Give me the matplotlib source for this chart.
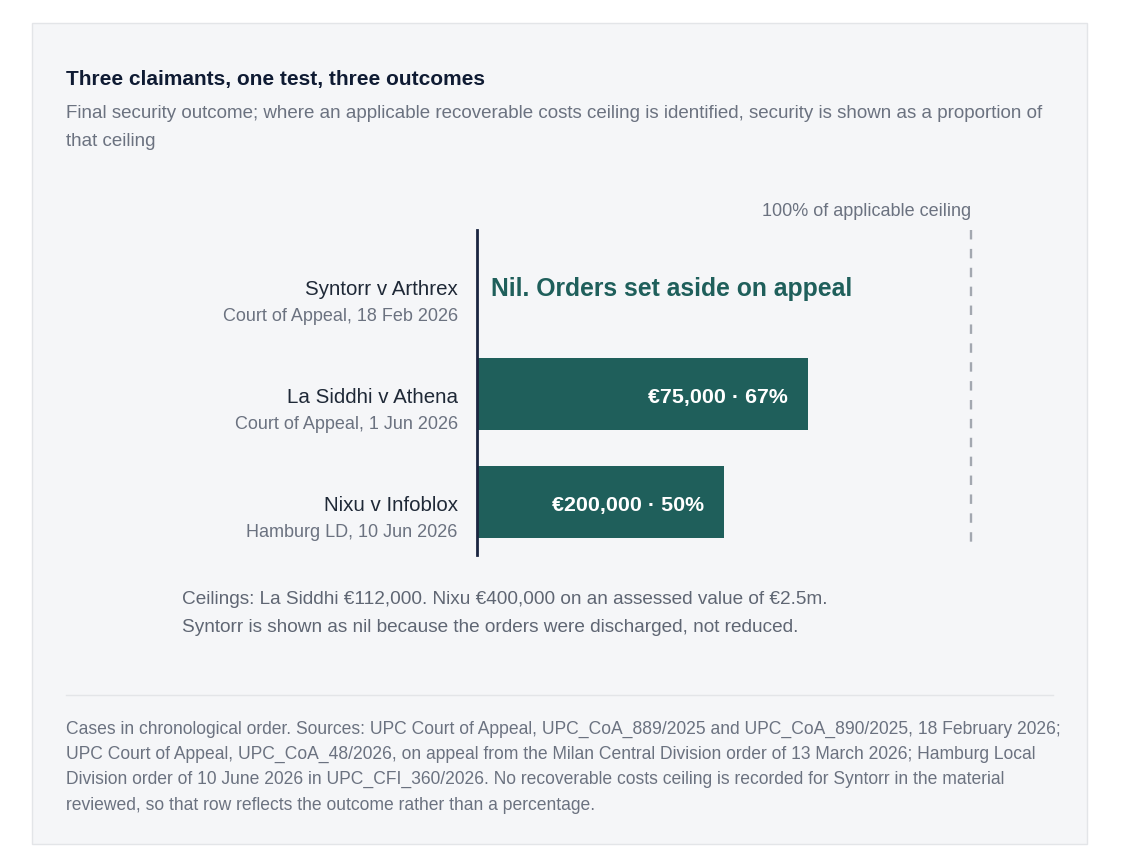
import numpy as np
import matplotlib.pyplot as plt
from matplotlib.patches import Rectangle

plt.rcParams['font.family'] = ['Liberation Sans', 'DejaVu Sans']

# data
cases = ['Syntorr v Arthrex', 'La Siddhi v Athena', 'Nixu v Infoblox']
courts = ['Court of Appeal, 18 Feb 2026', 'Court of Appeal, 1 Jun 2026', 'Hamburg LD, 10 Jun 2026']
share = [0.0, 0.67, 0.50]           # security as share of ceiling
amounts = [None, '€75,000', '€200,000']
pct_labels = [None, '67%', '50%']
nil_text = 'Nil. Orders set aside on appeal'

W, H = 1123, 862
fig = plt.figure(figsize=(W / 100, H / 100), dpi=100)
fig.patch.set_facecolor('white')

def fx(px):
    return px / W

def fy(py):
    return 1 - py / H

# panel
fig.patches.append(Rectangle((fx(32), fy(845)), fx(1087) - fx(32), fy(24) - fy(845),
                             transform=fig.transFigure, facecolor='#f5f6f8',
                             edgecolor='#e3e5e8', linewidth=1, zorder=-5))

fig.text(fx(66), fy(80), 'Three claimants, one test, three outcomes', fontsize=15,
         fontweight='bold', color='#0f1b33', va='center', ha='left')
fig.text(fx(66), fy(114), 'Final security outcome; where an applicable recoverable costs ceiling is identified, security is shown as a proportion of',
         fontsize=13.5, color='#6b7280', va='center', ha='left')
fig.text(fx(66), fy(141), 'that ceiling', fontsize=13.5, color='#6b7280', va='center', ha='left')

# chart axes: x 0..1 maps 477..971 px
ax = fig.add_axes([fx(477), fy(556), fx(971) - fx(477), fy(231) - fy(556)])
ax.set_facecolor('none')
ax.set_zorder(2)
ax.set_xlim(0, 1)
ax.set_ylim(2.49, -0.52)
for s in ['top', 'right', 'bottom']:
    ax.spines[s].set_visible(False)
ax.spines['left'].set_color('#1a2540')
ax.spines['left'].set_linewidth(2)
ax.set_xticks([])
ax.set_yticks([])

y = np.arange(len(cases))
ax.barh(y, share, height=0.667, color='#1f5f5b', zorder=2)

ax.plot([1, 1], [-0.52, 2.45], color='#a3a8b0', linestyle=(0, (4, 4)), linewidth=1.7, clip_on=False)
ax.text(1, -0.70, '100% of applicable ceiling', ha='right', va='center', fontsize=13,
        color='#6b7280')

for i in range(len(cases)):
    ax.text(-0.039, y[i] + 0.02, cases[i], ha='right', va='center', fontsize=14.8, color='#1f2937')
    ax.text(-0.039, y[i] + 0.27, courts[i], ha='right', va='center', fontsize=13, color='#6b7280')
    if share[i] == 0:
        ax.text(0.028, y[i] + 0.02, nil_text, ha='left', va='center', fontsize=17.8,
                fontweight='bold', color='#1f5f5b')
    else:
        ax.text(share[i] - 0.04, y[i] + 0.02, amounts[i] + ' · ' + pct_labels[i], ha='right',
                va='center', fontsize=15.4, fontweight='bold', color='white', zorder=3)

fig.text(fx(182), fy(599), 'Ceilings: La Siddhi €112,000. Nixu €400,000 on an assessed value of €2.5m.',
         fontsize=13.65, color='#5f6673', va='center', ha='left')
fig.text(fx(182), fy(628), 'Syntorr is shown as nil because the orders were discharged, not reduced.',
         fontsize=13.65, color='#5f6673', va='center', ha='left')

fig.lines.append(plt.Line2D([fx(66), fx(1053)], [fy(696), fy(696)], transform=fig.transFigure,
                            color='#e3e5e8', linewidth=1))

footer = ['Cases in chronological order. Sources: UPC Court of Appeal, UPC_CoA_889/2025 and UPC_CoA_890/2025, 18 February 2026;',
          'UPC Court of Appeal, UPC_CoA_48/2026, on appeal from the Milan Central Division order of 13 March 2026; Hamburg Local',
          'Division order of 10 June 2026 in UPC_CFI_360/2026. No recoverable costs ceiling is recorded for Syntorr in the material',
          'reviewed, so that row reflects the outcome rather than a percentage.']
for k, line in enumerate(footer):
    fig.text(fx(66), fy(729 + 25.4 * k), line, fontsize=12.65, color='#6b7280', va='center', ha='left')

fig.savefig('out.png', dpi=100, facecolor='white')
